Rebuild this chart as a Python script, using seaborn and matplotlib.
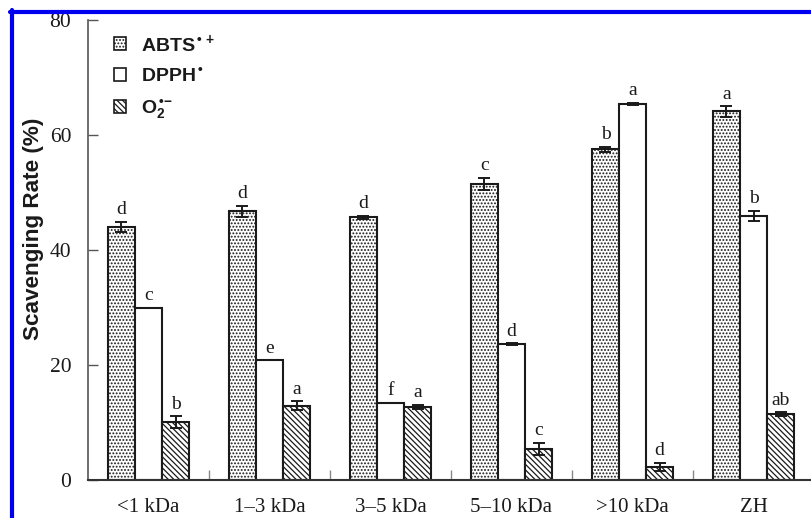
import numpy as np
import pandas as pd
import matplotlib
matplotlib.use("Agg")
import matplotlib.pyplot as plt
import seaborn as sns
from matplotlib.patches import Patch
from matplotlib.lines import Line2D

# Molecular-weight fractions and the three radical assays
fractions = ["<1 kDa", "1\u20133 kDa", "3\u20135 kDa", "5\u201310 kDa", ">10 kDa", "ZH"]
assays = ["ABTS", "DPPH", "O2"]

abts = [44.0, 46.7, 45.7, 51.5, 57.5, 64.1]
abts_err = [0.9, 1.0, 0.3, 1.0, 0.4, 0.9]
dpph = [30.0, 20.8, 13.4, 23.6, 65.4, 45.9]
dpph_err = [0.0, 0.0, 0.0, 0.2, 0.2, 0.9]
o2 = [10.1, 12.9, 12.7, 5.4, 2.3, 11.5]
o2_err = [1.0, 0.8, 0.4, 1.1, 0.7, 0.3]

abts_letters = ["d", "d", "d", "c", "b", "a"]
dpph_letters = ["c", "e", "f", "d", "a", "b"]
o2_letters = ["b", "a", "a", "c", "d", "ab"]

legend_labels = ["$\\mathrm{ABTS}^{\\,\u2022\\,+}$", "$\\mathrm{DPPH}^{\\,\u2022}$",
                 "$\\mathrm{O}_{2}^{\\,\u2022\\!-}$"]
y_ticks = [0, 20, 40, 60, 80]

values = [abts, dpph, o2]
errors = [abts_err, dpph_err, o2_err]
letters = [abts_letters, dpph_letters, o2_letters]

df = pd.DataFrame({
    "fraction": np.tile(fractions, len(assays)),
    "assay": np.repeat(assays, len(fractions)),
    "rate": np.concatenate(values),
})

sns.set_style("ticks")
plt.rcParams["font.family"] = ["Liberation Serif", "DejaVu Serif"]
plt.rcParams["mathtext.fontset"] = "custom"
plt.rcParams["mathtext.rm"] = "Liberation Sans:bold"
plt.rcParams["mathtext.it"] = "Liberation Sans:bold"
plt.rcParams["mathtext.bf"] = "Liberation Sans:bold"
plt.rcParams["hatch.linewidth"] = 0.9

W, H = 811, 518
fig = plt.figure(figsize=(W / 100, H / 100), dpi=100)
ax = fig.add_axes([88 / W, 1 - 480 / H, (814 - 88) / W, 460 / H])

fill_hatch = [".....", "", "\\\\\\\\\\\\"]

sns.barplot(data=df, x="fraction", y="rate", hue="assay", order=fractions,
            hue_order=assays, palette=["white"] * 3, width=0.67, gap=0,
            errorbar=None, legend=False, ax=ax, saturation=1)

bar_groups = list(ax.containers)[:len(assays)]
for i, cont in enumerate(bar_groups):
    for j, bar in enumerate(cont.patches):
        bar.set_facecolor("white")
        bar.set_edgecolor("#1a1a1a")
        bar.set_linewidth(1.5)
        bar.set_hatch(fill_hatch[i])
        xc = bar.get_x() + bar.get_width() / 2
        top = values[i][j]
        err = errors[i][j]
        if err > 0:
            ax.errorbar(xc, top, yerr=err, fmt="none", ecolor="#1a1a1a",
                        elinewidth=1.4, capsize=4, capthick=1.4, zorder=5)
        ax.annotate(letters[i][j], (xc, top + err), xytext=(0, 5.5),
                    textcoords="offset points", ha="center", va="baseline",
                    fontsize=14, fontfamily="Liberation Serif", color="#1a1a1a")

ax.set_xlim(-0.5, len(fractions) - 0.5)
ax.set_ylim(0, 80)
ax.set_yticks(y_ticks)
ax.set_xticks(np.arange(len(fractions)) + 0.5, minor=True)
ax.set_xlabel("")
ax.set_ylabel("")
ax.tick_params(axis="y", direction="in", length=7, width=1, color="#555555",
               pad=12, labelsize=15.5, labelcolor="#1a1a1a")
ax.tick_params(axis="x", which="major", length=0, pad=13, labelsize=15,
               labelcolor="#1a1a1a")
ax.tick_params(axis="x", which="minor", direction="in", length=7, width=1,
               color="#888888")
for side in ["top", "right"]:
    ax.spines[side].set_visible(False)
ax.spines["left"].set_color("#555555")
ax.spines["bottom"].set_color("#333333")
ax.spines["left"].set_linewidth(1.2)
ax.spines["bottom"].set_linewidth(1.5)

fig.text(34 / W, 1 - 229 / H, "Scavenging Rate (%)", rotation=90,
         ha="center", va="center", fontsize=16.2, fontweight="bold",
         fontfamily="Liberation Sans", color="#1a1a1a")

handles = [Patch(facecolor="white", edgecolor="#1a1a1a", hatch=h, linewidth=1.2)
           for h in fill_hatch]
leg = ax.legend(handles, legend_labels, loc="upper left",
                bbox_to_anchor=(104 / W, 1 - 23 / H), bbox_transform=fig.transFigure,
                frameon=False, fontsize=14, handlelength=0.65, handleheight=0.65,
                handletextpad=0.75, labelspacing=0.6, borderpad=0)
for t in leg.get_texts():
    t.set_color("#1a1a1a")

# blue frame along the top and left edges
fig.add_artist(Line2D([10 / W, 1.0], [1 - 11.5 / H, 1 - 11.5 / H], color="#0000f0",
                      linewidth=3, transform=fig.transFigure))
fig.add_artist(Line2D([11.5 / W, 11.5 / W], [0, 1 - 10 / H], color="#0000f0",
                      linewidth=3, transform=fig.transFigure))

fig.savefig("out.png", dpi=100)
